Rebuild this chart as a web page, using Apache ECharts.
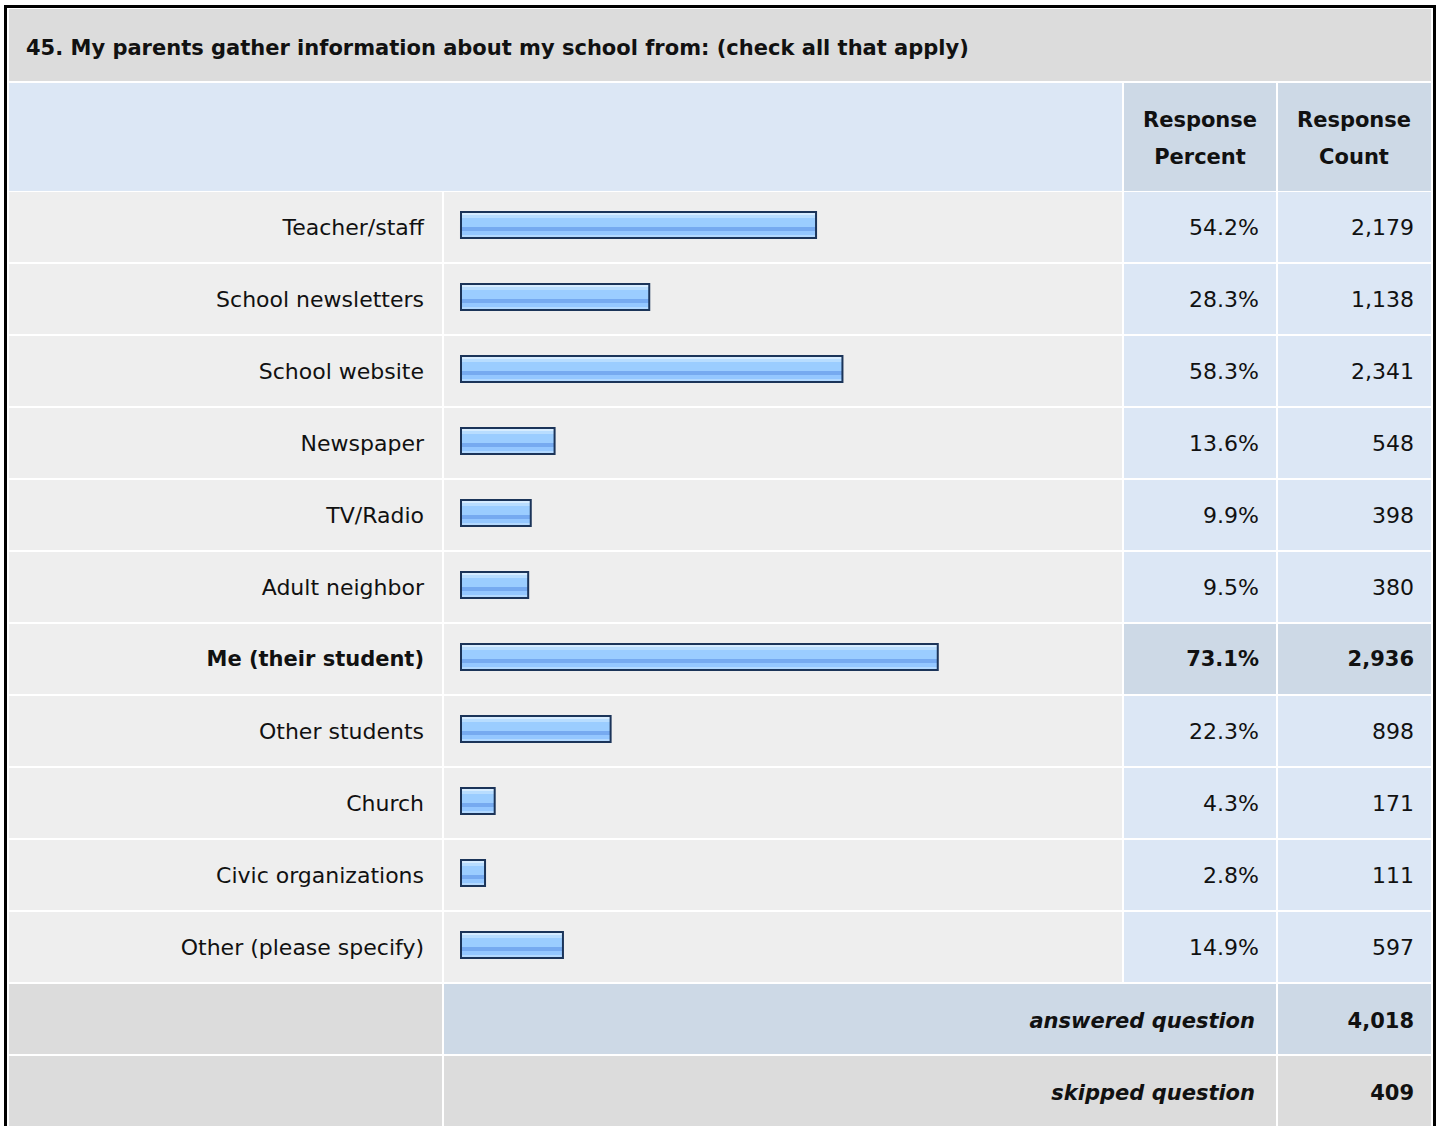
<!DOCTYPE html>
<html>
<head>
<meta charset="utf-8">
<script src="https://cdn.jsdelivr.net/npm/echarts@6/dist/echarts.min.js"></script>
<style>
html,body{margin:0;padding:0;background:#fff;}
#c{width:1440px;height:1126px;}
</style>
</head>
<body>
<div id="c"></div>
<script>
// ---- data ----
const title = '45. My parents gather information about my school from: (check all that apply)';
const categories = ['Teacher/staff','School newsletters','School website','Newspaper','TV/Radio','Adult neighbor','Me (their student)','Other students','Church','Civic organizations','Other (please specify)'];
const percents = [54.2, 28.3, 58.3, 13.6, 9.9, 9.5, 73.1, 22.3, 4.3, 2.8, 14.9];
const counts = ['2,179','1,138','2,341','548','398','380','2,936','898','171','111','597'];
const headerPercent = ['Response', 'Percent'];
const headerCount = ['Response', 'Count'];
const answeredLabel = 'answered question';
const answeredCount = '4,018';
const skippedLabel = 'skipped question';
const skippedCount = '409';

// ---- layout ----
const FONT = '"DejaVu Sans", "Liberation Sans", Arial, sans-serif';
const C = {title:'#dcdcdc', row:'#eeeeee', blue:'#dce7f5', blueDark:'#cdd9e6', text:'#111111'};
const COL = [[9,433],[444,678],[1124,152],[1278,153]]; // x, width
const ROW_TOP = 192, ROW_STEP = 72, ROW_H = 70;
const BAR_H = 26, BAR_CAP = 6;
const maxIdx = percents.indexOf(Math.max(...percents));

const chart = echarts.init(document.getElementById('c'), null, {renderer:'svg', width:1440, height:1126});

const g = [];
function rect(x,y,w,h,fill){ g.push({type:'rect', silent:true, z:-10, shape:{x,y,width:w,height:h}, style:{fill}}); }
function text(t,x,y,opt){ g.push({type:'text', silent:true, z:10, x, y, style:Object.assign({text:t, fill:C.text, font:'22px '+FONT, textAlign:'left', textVerticalAlign:'middle'}, opt||{})}); }

// title
rect(9,9,1422,72,C.title);
text(title,26,48,{font:'bold 21px '+FONT});
// header
rect(COL[0][0],83,COL[1][0]+COL[1][1]-COL[0][0],108,C.blue);
rect(COL[2][0],83,COL[2][1],108,C.blueDark);
rect(COL[3][0],83,COL[3][1],108,C.blueDark);
text(headerPercent[0],1200,120,{font:'bold 21px '+FONT,textAlign:'center'});
text(headerPercent[1],1200,157,{font:'bold 21px '+FONT,textAlign:'center'});
text(headerCount[0],1354,120,{font:'bold 21px '+FONT,textAlign:'center'});
text(headerCount[1],1354,157,{font:'bold 21px '+FONT,textAlign:'center'});
// rows
categories.forEach((c,i)=>{
  const y = ROW_TOP + ROW_STEP*i;
  rect(COL[0][0],y,COL[0][1],ROW_H,C.row);
  rect(COL[1][0],y,COL[1][1],ROW_H,C.row);
  const b = i===maxIdx ? C.blueDark : C.blue;
  rect(COL[2][0],y,COL[2][1],ROW_H,b);
  rect(COL[3][0],y,COL[3][1],ROW_H,b);
});
// footer
const fy = ROW_TOP + ROW_STEP*categories.length;
rect(COL[0][0],fy,COL[0][1],ROW_H,C.title);
rect(COL[1][0],fy,COL[2][0]+COL[2][1]-COL[1][0],ROW_H,C.blueDark);
rect(COL[3][0],fy,COL[3][1],ROW_H,C.blueDark);
rect(COL[0][0],fy+ROW_STEP,COL[0][1],ROW_H+10,C.title);
rect(COL[1][0],fy+ROW_STEP,COL[2][0]+COL[2][1]-COL[1][0],ROW_H+10,C.title);
rect(COL[3][0],fy+ROW_STEP,COL[3][1],ROW_H+10,C.title);
text(answeredLabel,1255,fy+37,{font:'italic bold 21px '+FONT,textAlign:'right'});
text(answeredCount,1414,fy+37,{font:'bold 21px '+FONT,textAlign:'right'});
text(skippedLabel,1255,fy+ROW_STEP+37,{font:'italic bold 21px '+FONT,textAlign:'right'});
text(skippedCount,1414,fy+ROW_STEP+37,{font:'bold 21px '+FONT,textAlign:'right'});
// outer border
g.push({type:'rect', silent:true, z:20, shape:{x:5.5,y:6.5,width:1429,height:1130}, style:{fill:'none', stroke:'#000', lineWidth:3}});

const barGradient = new echarts.graphic.LinearGradient(0,0,0,1,[
  {offset:0, color:'#d6ecff'},{offset:0.1, color:'#d6ecff'},
  {offset:0.1, color:'#b8ddff'},{offset:0.24, color:'#b8ddff'},
  {offset:0.24, color:'#9bcdff'},{offset:0.56, color:'#9bcdff'},
  {offset:0.56, color:'#76aaf0'},{offset:0.73, color:'#76aaf0'},
  {offset:0.73, color:'#94c7ff'},{offset:0.9, color:'#94c7ff'},
  {offset:0.9, color:'#b3d9ff'},{offset:1, color:'#b3d9ff'}
]);

const labelRich = {b:{fontWeight:'bold', fontSize:21, fontFamily:FONT, color:C.text}};
const option = {
  animation:false,
  backgroundColor:'#ffffff',
  graphic:g,
  grid:{left:461, right:335, top:189, height:ROW_STEP*categories.length, containLabel:false},
  xAxis:{type:'value', min:0, max:100, show:false},
  yAxis:[
    {type:'category', data:categories, inverse:true, position:'left',
     axisLine:{show:false}, axisTick:{show:false}, splitLine:{show:false},
     axisLabel:{margin:37, fontSize:22, fontFamily:FONT, color:C.text, padding:[4,0,0,0], rich:labelRich,
       formatter:(v,i)=> i===maxIdx ? '{b|'+v+'}' : v}},
    {type:'category', data:categories, inverse:true, position:'right', offset:0,
     axisLine:{show:false}, axisTick:{show:false},
     axisLabel:{margin:154, align:'right', fontSize:22, fontFamily:FONT, color:C.text, padding:[4,0,0,0], rich:labelRich,
       formatter:(v,i)=> { const s = percents[i].toFixed(1)+'%'; return i===maxIdx ? '{b|'+s+'}' : s; }}},
    {type:'category', data:categories, inverse:true, position:'right', offset:155,
     axisLine:{show:false}, axisTick:{show:false},
     axisLabel:{margin:154, align:'right', fontSize:22, fontFamily:FONT, color:C.text, padding:[4,0,0,0], rich:labelRich,
       formatter:(v,i)=> i===maxIdx ? '{b|'+counts[i]+'}' : counts[i]}}
  ],
  series:[{
    type:'custom', yAxisIndex:0,
    data:percents.map((p,i)=>[p,i]),
    encode:{x:0, y:1},
    renderItem:(params, api)=>{
      const i = api.value(1);
      const start = api.coord([0, i]);
      const end = api.coord([api.value(0), i]);
      return {type:'rect',
        shape:{x:start[0], y:start[1]-BAR_H/2, width:end[0]-start[0]+BAR_CAP, height:BAR_H},
        style:{fill:barGradient, stroke:'#1b3459', lineWidth:2}};
    }
  }]
};
chart.setOption(option);
</script>
</body>
</html>
